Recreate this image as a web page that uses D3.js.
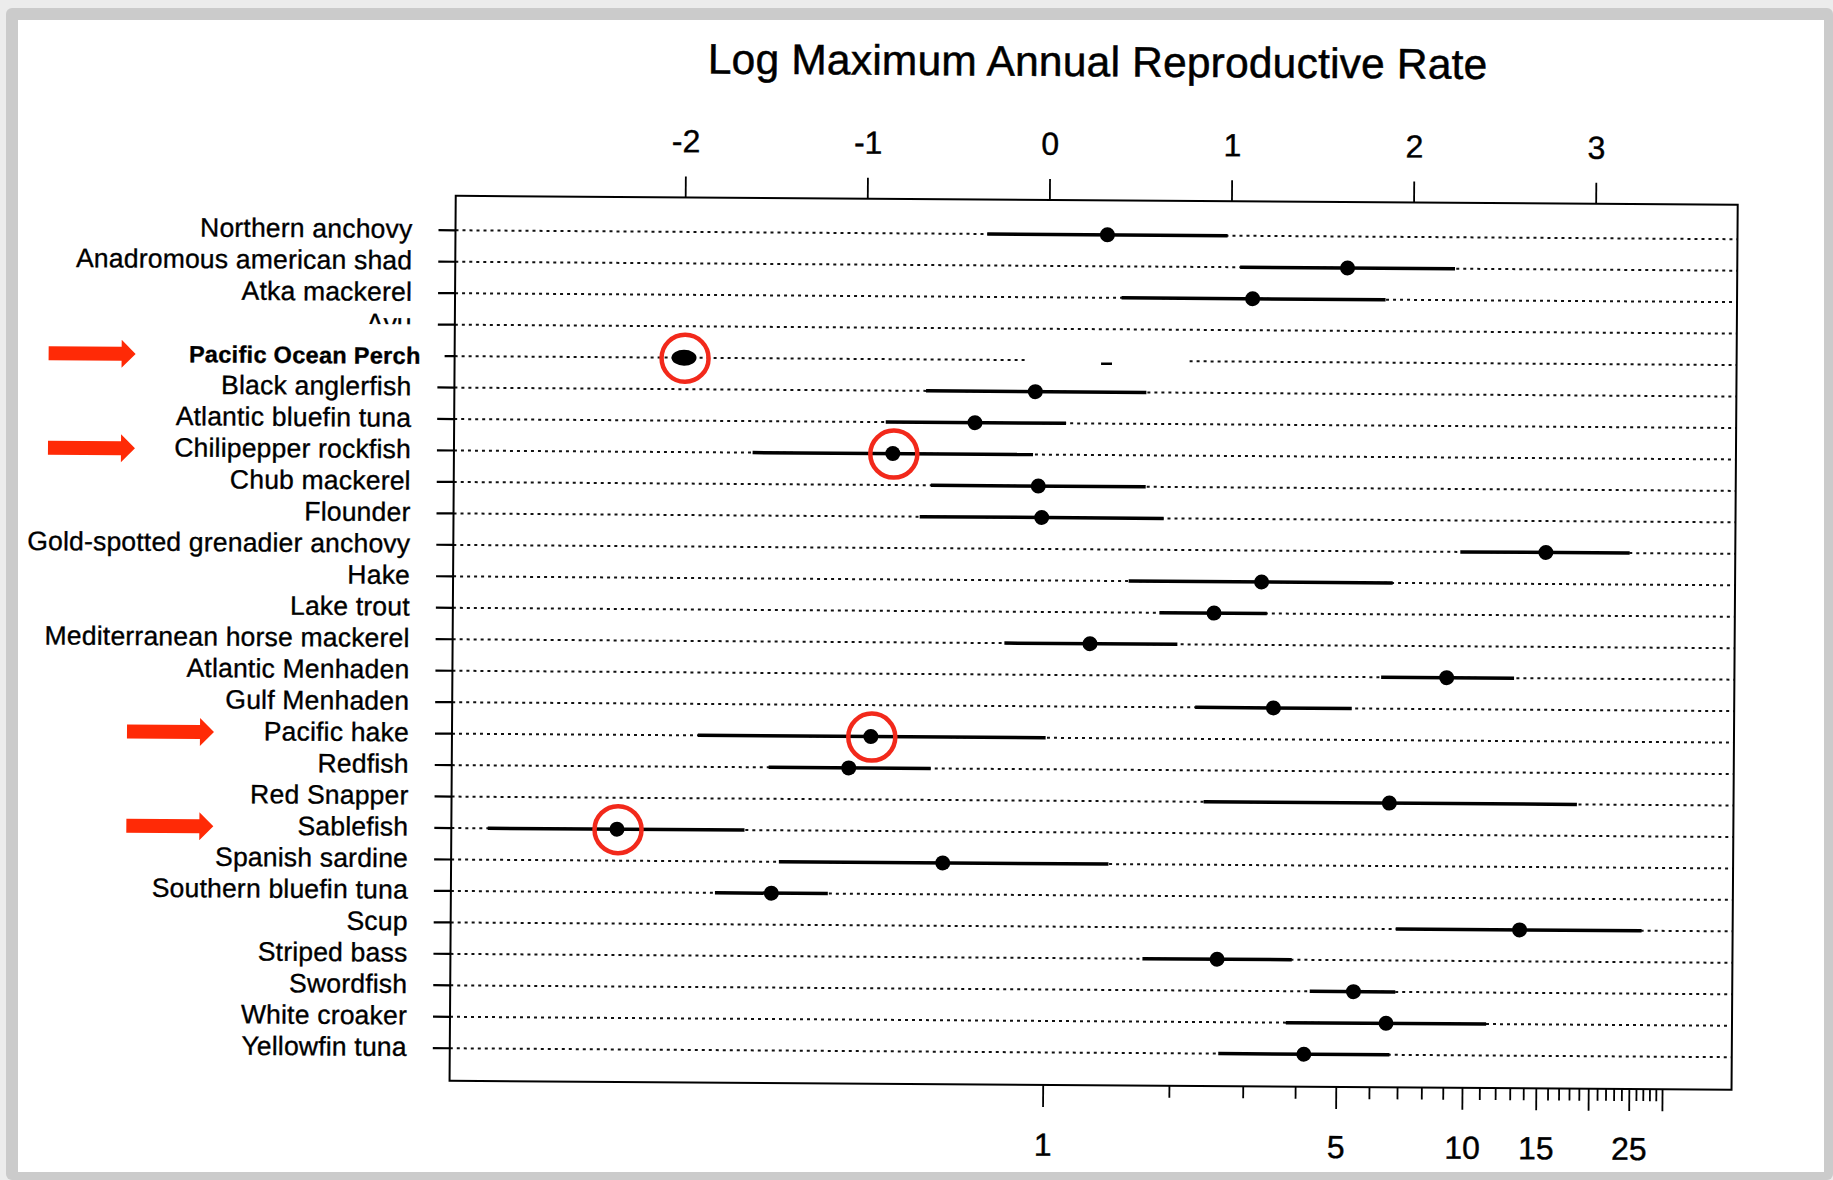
<!DOCTYPE html>
<html><head><meta charset="utf-8">
<script src="https://cdn.jsdelivr.net/npm/d3@7"></script>
<style>html,body{margin:0;padding:0;background:#fff;overflow:hidden}</style>
</head><body>
<svg id="chart" width="1833" height="1180"></svg>
<script>
const title = "Log Maximum Annual Reproductive Rate";
const species = ["Northern anchovy","Anadromous american shad","Atka mackerel","Ayu","Pacific Ocean Perch","Black anglerfish","Atlantic bluefin tuna","Chilipepper rockfish","Chub mackerel","Flounder","Gold-spotted grenadier anchovy","Hake","Lake trout","Mediterranean horse mackerel","Atlantic Menhaden","Gulf Menhaden","Pacific hake","Redfish","Red Snapper","Sablefish","Spanish sardine","Southern bluefin tuna","Scup","Striped bass","Swordfish","White croaker","Yellowfin tuna"];
const estimate = [0.32,1.64,1.12,null,-2.00,-0.07,-0.40,-0.85,-0.05,-0.03,2.74,1.18,0.92,0.24,2.20,1.25,-0.96,-1.08,1.89,-2.35,-0.56,-1.50,2.61,0.95,1.70,1.88,1.43];
const lower    = [-0.34,1.05,0.40,null,null,-0.67,-0.89,-1.62,-0.64,-0.70,2.27,0.45,0.62,-0.23,1.84,0.82,-1.91,-1.52,0.87,-3.06,-1.46,-1.81,1.93,0.54,1.46,1.33,0.96];
const upper    = [0.98,2.23,1.85,null,null,0.54,0.10,-0.08,0.54,0.64,3.20,1.90,1.21,0.72,2.57,1.68,0.00,-0.63,2.92,-1.65,0.35,-1.19,3.28,1.36,1.93,2.43,1.90];
const highlighted = ["Pacific Ocean Perch","Chilipepper rockfish","Pacific hake","Sablefish"];
const boldLabels = ["Pacific Ocean Perch"];
const hiddenLabel = "Ayu";
const topTicks = [-2,-1,0,1,2,3];
const bottomTicks = [1,2,3,4,5,6,7,8,9,10,11,12,13,14,15,16,17,18,19,20,21,22,23,24,25,26,27,28,29,30];
const bottomLongTicks = [1,5,10,15,20,25,30];
const bottomTickLabels = [1,5,10,15,25];
const erasedInterval = [-0.12, 0.76];
const erasedMark = [0.29, 0.35];

const svg = d3.select("#chart");
// scanned-page frame
svg.append("rect").attr("x",0).attr("y",0).attr("width",1833).attr("height",1180).attr("fill","#ececec");
svg.append("rect").attr("x",6).attr("y",8).attr("width",1827).attr("height",1172).attr("rx",6).attr("fill","#cbcbcb");
svg.append("rect").attr("x",18).attr("y",20).attr("width",1806).attr("height",1152).attr("fill","#fff");

const L = 453, R = 1735, T = 199, B = 1084;
const g = svg.append("g").attr("transform","rotate(0.4,916,590)");
const x = d3.scaleLinear().domain([-3.26, 3.78]).range([L, R]);
const xb = d3.scaleLog().domain([Math.exp(-3.26), Math.exp(3.78)]).range([L, R]);
const y = d3.scalePoint().domain(species).range([233.5, 1051.5]);
const font = "'Liberation Sans', Arial, Helvetica, sans-serif";

g.append("text").attr("x",1094).attr("y",75).attr("text-anchor","middle")
  .attr("font-family",font).attr("font-size",42.5).attr("letter-spacing",0.2)
  .attr("fill","#000").attr("stroke","#000").attr("stroke-width",0.5).text(title);

// top axis
const ax = g.append("g").attr("transform",`translate(0,${T})`)
  .call(d3.axisTop(x).tickValues(topTicks).tickSize(21).tickPadding(24).tickFormat(d => String(d)));
ax.select(".domain").remove();
ax.selectAll("line").attr("stroke","#000").attr("stroke-width",1.8);
ax.selectAll("text").attr("font-family",font).attr("font-size",32).attr("fill","#000")
  .attr("stroke","#000").attr("stroke-width",0.4);

// bottom axis (log scale of the rate)
g.selectAll("line.bt").data(bottomTicks).join("line").attr("class","bt")
  .attr("x1",d=>xb(d)).attr("x2",d=>xb(d)).attr("y1",B)
  .attr("y2",d=> bottomLongTicks.includes(d) ? B+22 : B+12)
  .attr("stroke","#000").attr("stroke-width",1.8);
g.selectAll("text.bl").data(bottomTickLabels).join("text").attr("class","bl")
  .attr("x",d=>xb(d)).attr("y",1155).attr("text-anchor","middle")
  .attr("font-family",font).attr("font-size",32).attr("fill","#000")
  .attr("stroke","#000").attr("stroke-width",0.4).text(d=>d);

// rows
const rows = species.map((s,i)=>({s, est:estimate[i], lo:lower[i], hi:upper[i]}));
g.selectAll("line.rt").data(rows).join("line").attr("class","rt")
  .attr("x1",d=> boldLabels.includes(d.s) ? L-10 : L-17).attr("x2",L)
  .attr("y1",d=>y(d.s)).attr("y2",d=>y(d.s)).attr("stroke","#000").attr("stroke-width",2.2);
g.selectAll("line.dot").data(rows).join("line").attr("class","dot")
  .attr("x1",L).attr("x2",R).attr("y1",d=>y(d.s)).attr("y2",d=>y(d.s))
  .attr("stroke","#111").attr("stroke-width",2).attr("stroke-dasharray","3 4");

// label text
g.selectAll("text.lab").data(rows).join("text").attr("class","lab")
  .attr("x",d=> boldLabels.includes(d.s) ? 419 : 410)
  .attr("y",d=>y(d.s)+8).attr("text-anchor","end")
  .attr("font-family",font)
  .attr("font-size",d=> boldLabels.includes(d.s) ? 23.5 : 26.5)
  .attr("font-weight",d=> boldLabels.includes(d.s) ? "bold" : "normal")
  .attr("letter-spacing",d=> boldLabels.includes(d.s) ? 0.3 : 0.2)
  .attr("fill","#000").attr("stroke","#000").attr("stroke-width",0.35).text(d=>d.s);

// patch that hides the lower half of the hidden label
g.append("rect").attr("x",300).attr("y",y(hiddenLabel)).attr("width",128).attr("height",16).attr("fill","#fff");

// erased part of the Pacific Ocean Perch row
const pop = "Pacific Ocean Perch";
g.append("rect").attr("x",x(erasedInterval[0])).attr("y",y(pop)-4)
  .attr("width",x(erasedInterval[1])-x(erasedInterval[0])).attr("height",8).attr("fill","#fff");
g.append("line").attr("x1",x(erasedMark[0])).attr("x2",x(erasedMark[1]))
  .attr("y1",y(pop)+3).attr("y2",y(pop)+3).attr("stroke","#000").attr("stroke-width",2.5);

// intervals
const ci = rows.filter(d=>d.lo!=null && d.hi!=null);
g.selectAll("line.ci").data(ci).join("line").attr("class","ci")
  .attr("x1",d=>x(d.lo)).attr("x2",d=>x(d.hi)).attr("y1",d=>y(d.s)).attr("y2",d=>y(d.s))
  .attr("stroke","#000").attr("stroke-width",3.5);

// points
const pts = rows.filter(d=>d.est!=null);
g.selectAll("ellipse.pt").data(pts).join("ellipse").attr("class","pt")
  .attr("cx",d=>x(d.est)).attr("cy",d=>y(d.s))
  .attr("rx",d=> d.lo==null ? 12.5 : 7.5).attr("ry",d=> d.lo==null ? 8 : 7.5)
  .attr("fill","#000");

// red highlight circles
const hl = rows.filter(d=>highlighted.includes(d.s));
g.selectAll("circle.hl").data(hl).join("circle").attr("class","hl")
  .attr("cx",d=>x(d.est)+1).attr("cy",d=>y(d.s)+0.5).attr("r",23.5)
  .attr("fill","none").attr("stroke","#f2291b").attr("stroke-width",4.5);

// red arrows
g.selectAll("path.arrow").data(hl).join("path").attr("class","arrow")
  .attr("d",(d,i)=>{
    const x0 = i < 2 ? 47 : 128, yc = y(d.s);
    return `M${x0},${yc-7}H${x0+73}V${yc-14}L${x0+87},${yc}L${x0+73},${yc+14}V${yc+7}H${x0}Z`;
  })
  .attr("fill","#ff2a06");

// plot box
g.append("rect").attr("x",L).attr("y",T).attr("width",R-L).attr("height",B-T)
  .attr("fill","none").attr("stroke","#000").attr("stroke-width",2);
</script>
</body></html>
